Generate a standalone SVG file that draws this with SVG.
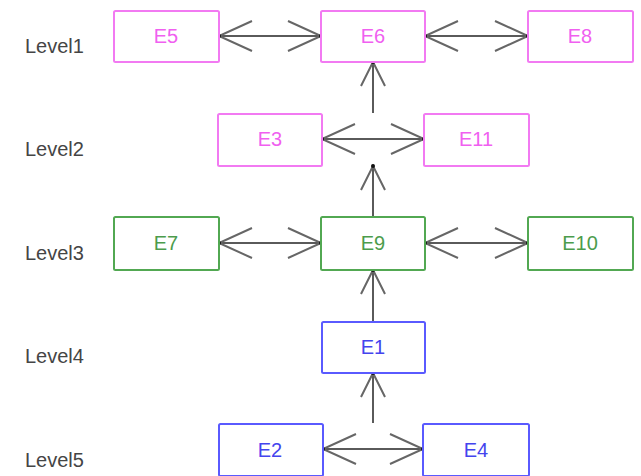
<svg xmlns="http://www.w3.org/2000/svg" width="641" height="476" viewBox="0 0 641 476">
<defs>
<style>
.lvl{font-family:"Liberation Sans",Arial,sans-serif;font-size:20px;fill:#454545}
.box{fill:#fff;stroke-width:2}
.lbl{font-family:"Liberation Sans",Arial,sans-serif;font-size:20px;text-anchor:middle}
.pink .box{stroke:#f27af2}.pink .lbl{fill:#f060f0}
.green .box{stroke:#52a852}.green .lbl{fill:#4c9c4c}
.blue .box{stroke:#5a5aff}.blue .lbl{fill:#4444ee}
.con{stroke:#5a5a5a;stroke-width:2;fill:none}
</style>
<marker id="ah" markerUnits="userSpaceOnUse" viewBox="-36 -18 40 36" refX="0" refY="0" markerWidth="40" markerHeight="36" orient="auto-start-reverse" overflow="visible">
<path d="M-33,-15 L0,0 L-33,15" fill="none" stroke="#666" stroke-width="2"/>
<circle cx="0" cy="0" r="2" fill="#111"/>
</marker>
<marker id="av" markerUnits="userSpaceOnUse" viewBox="-30 -15 34 30" refX="0" refY="0" markerWidth="34" markerHeight="30" orient="auto" overflow="visible">
<path d="M-24,-12 L0,0 L-24,12" fill="none" stroke="#666" stroke-width="2"/>
<circle cx="0" cy="0" r="2" fill="#111"/>
</marker>
</defs>
<rect width="641" height="476" fill="#fff"/>
<g id="levels">
<text class="lvl" x="25" y="53">Level1</text>
<text class="lvl" x="25" y="156">Level2</text>
<text class="lvl" x="25" y="260">Level3</text>
<text class="lvl" x="25" y="363">Level4</text>
<text class="lvl" x="25" y="467">Level5</text>
</g>
<g id="connectors" class="con">
<line x1="219" y1="36" x2="321" y2="36" marker-start="url(#ah)" marker-end="url(#ah)"/>
<line x1="425" y1="36" x2="528" y2="36" marker-start="url(#ah)" marker-end="url(#ah)"/>
<line x1="373" y1="113" x2="373" y2="62" marker-end="url(#av)"/>
<line x1="322" y1="139" x2="424" y2="139" marker-start="url(#ah)" marker-end="url(#ah)"/>
<line x1="373" y1="216" x2="373" y2="166" marker-end="url(#av)"/>
<line x1="219" y1="243" x2="321" y2="243" marker-start="url(#ah)" marker-end="url(#ah)"/>
<line x1="425" y1="243" x2="528" y2="243" marker-start="url(#ah)" marker-end="url(#ah)"/>
<line x1="373" y1="321" x2="373" y2="270" marker-end="url(#av)"/>
<line x1="373" y1="423" x2="373" y2="373" marker-end="url(#av)"/>
<line x1="323" y1="449" x2="423" y2="449" marker-start="url(#ah)" marker-end="url(#ah)"/>
</g>
<g id="E5" class="pink"><rect class="box" x="114" y="11" width="105" height="51" rx="1.5"/><text class="lbl" x="166" y="43">E5</text></g>
<g id="E6" class="pink"><rect class="box" x="321" y="11" width="104" height="51" rx="1.5"/><text class="lbl" x="373" y="43">E6</text></g>
<g id="E8" class="pink"><rect class="box" x="528" y="11" width="105" height="51" rx="1.5"/><text class="lbl" x="580" y="43">E8</text></g>
<g id="E3" class="pink"><rect class="box" x="218" y="114" width="104" height="52" rx="1.5"/><text class="lbl" x="270" y="146">E3</text></g>
<g id="E11" class="pink"><rect class="box" x="424" y="114" width="105" height="52" rx="1.5"/><text class="lbl" x="476" y="146">E11</text></g>
<g id="E7" class="green"><rect class="box" x="114" y="217" width="105" height="53" rx="1.5"/><text class="lbl" x="166" y="250">E7</text></g>
<g id="E9" class="green"><rect class="box" x="321" y="217" width="104" height="53" rx="1.5"/><text class="lbl" x="373" y="250">E9</text></g>
<g id="E10" class="green"><rect class="box" x="528" y="217" width="105" height="53" rx="1.5"/><text class="lbl" x="580" y="250">E10</text></g>
<g id="E1" class="blue"><rect class="box" x="322" y="322" width="103" height="51" rx="1.5"/><text class="lbl" x="373" y="354">E1</text></g>
<g id="E2" class="blue"><rect class="box" x="219" y="424" width="104" height="52" rx="1.5"/><text class="lbl" x="270" y="457">E2</text></g>
<g id="E4" class="blue"><rect class="box" x="423" y="424" width="106" height="52" rx="1.5"/><text class="lbl" x="476" y="457">E4</text></g>
</svg>
